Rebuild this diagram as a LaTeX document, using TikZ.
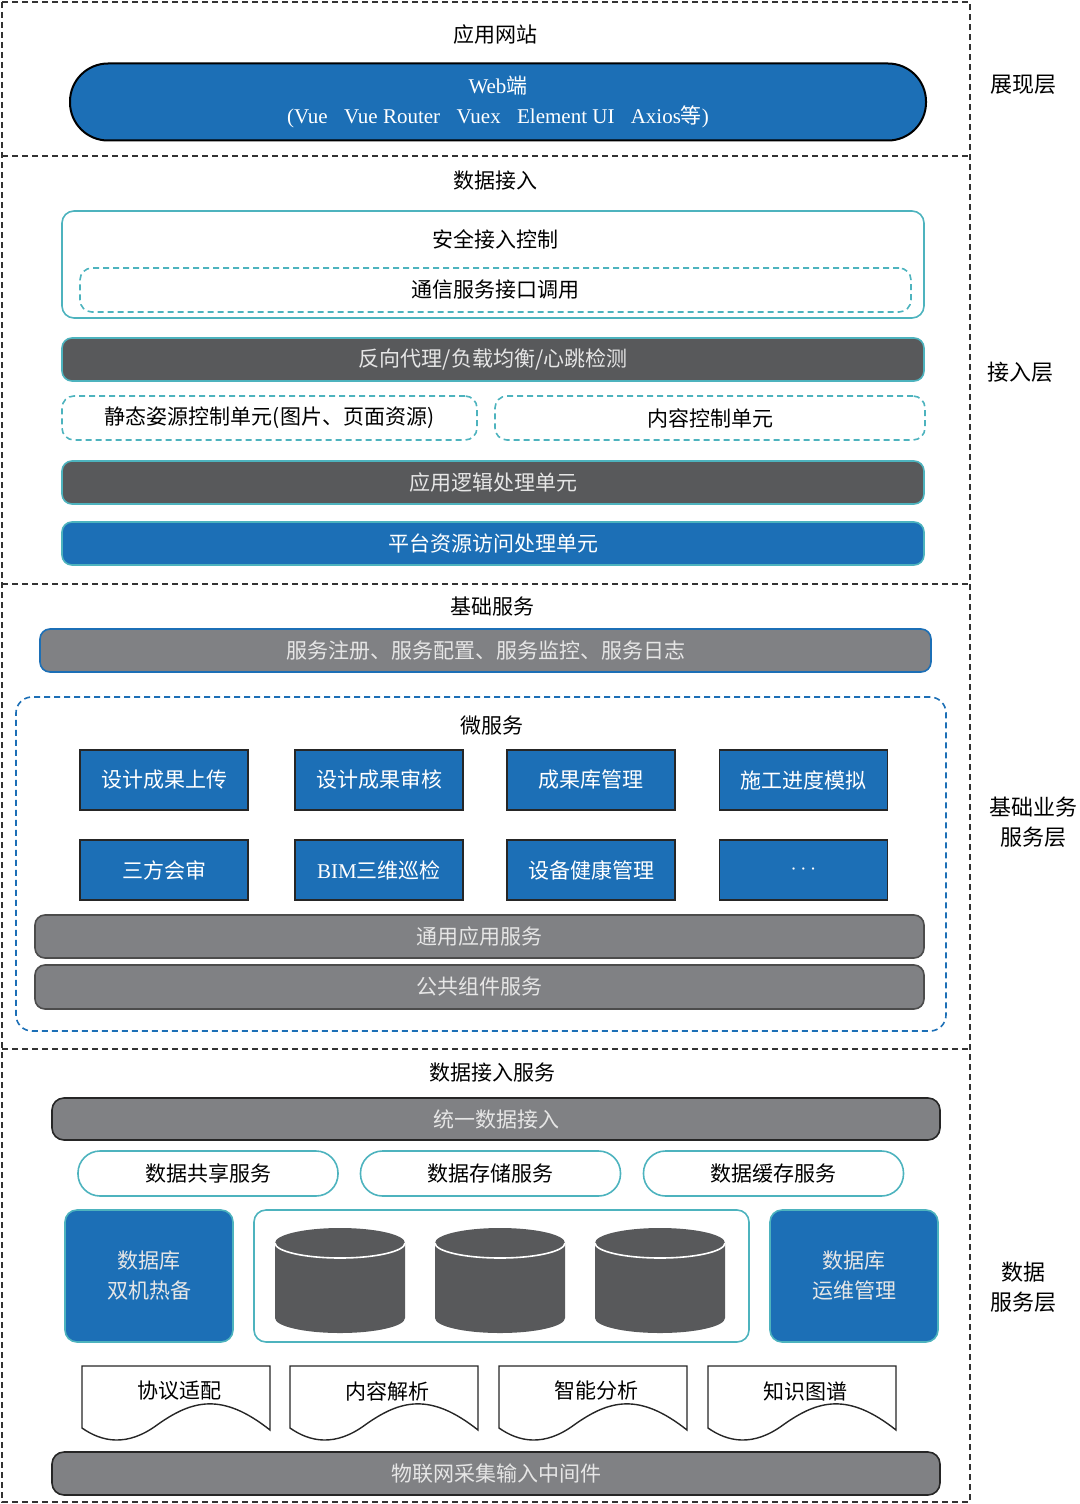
\documentclass[tikz,border=0pt]{standalone}
\usepackage{fontspec}
\setmainfont{Noto Sans CJK SC}
\newfontfamily\lat{Liberation Serif}
\definecolor{bl}{HTML}{1C6FB6}
\definecolor{dg}{HTML}{58595B}
\definecolor{mg}{HTML}{808184}
\definecolor{tl}{HTML}{4DB3BE}
\definecolor{lt}{HTML}{E6E6E6}
\begin{document}
\begin{tikzpicture}[x=0.5pt,y=-0.5pt,font=\fontsize{10.5pt}{13pt}\selectfont,
 wh/.style 2 args={minimum width=#1*0.5pt,minimum height=#2*0.5pt,inner sep=0pt},
 frame/.style={black!80,line width=0.8pt,dash pattern=on 3pt off 2pt},
 dkbar/.style={fill=dg,draw=tl,line width=0.8pt,rounded corners=5pt,text=lt},
 gybar/.style={fill=mg,draw=bl,line width=0.8pt,rounded corners=5pt,text=lt},
 gybark/.style={fill=mg,draw=black!85,line width=0.8pt,rounded corners=6pt,text=lt},
 bluebar/.style={fill=bl,draw=tl,line width=0.8pt,rounded corners=5pt,text=white},
 tdash/.style={draw=tl,line width=0.8pt,dash pattern=on 3pt off 2pt,rounded corners=6pt},
 sq/.style={fill=bl,draw=black!85,line width=0.8pt,text=white,wh={168}{60}},
 pillt/.style={draw=tl,line width=0.8pt,rounded corners=11pt,wh={260}{45}},
 doc/.style={draw=black!85,line width=0.7pt,fill=white},
 lbl/.style={align=center,font=\fontsize{11pt}{15pt}\selectfont}]
\useasboundingbox (0,0) rectangle (1080,1504);
% frame
\draw[frame] (2,2) rectangle (970,1502);
\draw[frame] (2,156) -- (970,156);
\draw[frame] (2,584) -- (970,584);
\draw[frame] (2,1049) -- (970,1049);
\node[lbl] (L1) at (1023,85) {展现层};
\node[lbl] (L2) at (1020,372) {接入层};
\node[lbl] (L3) at (1033,822) {基础业务\\服务层};
\node[lbl] (L4) at (1023,1287) {数据\\服务层};
% layer 1
\node (t1) at (495,35) {应用网站};
\node[fill=bl,draw=black,line width=1pt,rounded corners=19pt,wh={856}{77},text=white,align=center,font=\fontsize{10.5pt}{15pt}\selectfont] (web) at (498,102) {{\lat Web}端\\{\lat (Vue、Vue Router、Vuex、Element UI、Axios}等{\lat )}};
% layer 2
\node (t2) at (495,181) {数据接入};
\node[draw=tl,line width=0.8pt,rounded corners=6pt,wh={862}{107}] (sec) at (493,264.5) {};
\node (sect) at (495,239) {安全接入控制};
\node[tdash,wh={831}{44}] (comm) at (495.5,290) {通信服务接口调用};
\node[dkbar,wh={862}{43}] (proxy) at (493,359.5) {反向代理/负载均衡/心跳检测};
\node[tdash,wh={415}{44}] (stat) at (269.5,418) {静态姿源控制单元(图片、页面资源)};
\node[tdash,wh={430}{44}] (cont) at (710,418) {内容控制单元};
\node[dkbar,wh={862}{43}] (logic) at (493,482.5) {应用逻辑处理单元};
\node[bluebar,wh={862}{43}] (plat) at (493,543.5) {平台资源访问处理单元};
% layer 3
\node (t3) at (492,607) {基础服务};
\node[gybar,wh={891}{43}] (base) at (485.5,650.5) {服务注册、服务配置、服务监控、服务日志};
\node[draw=bl,line width=0.8pt,dash pattern=on 3pt off 2pt,rounded corners=8pt,wh={930}{334}] (micro) at (481,864) {};
\node (mt) at (492,726) {微服务};
\node[sq] (s1) at (164,780) {设计成果上传};
\node[sq] (s2) at (379,780) {设计成果审核};
\node[sq] (s3) at (591,780) {成果库管理};
\node[sq] (s4) at (803.5,780) {施工进度模拟};
\node[sq] (s5) at (164,870) {三方会审};
\node[sq] (s6) at (379,870) {{\lat BIM}三维巡检};
\node[sq] (s7) at (591,870) {设备健康管理};
\node[sq] (s8) at (803.5,870) {$\cdots$};
\node[gybar,draw=black!70,wh={889}{43}] (gen) at (479.5,936.5) {通用应用服务};
\node[gybar,draw=black!70,wh={889}{44}] (pub) at (479.5,987) {公共组件服务};
% layer 4
\node (t4) at (492,1073) {数据接入服务};
\node[gybark,wh={888}{42}] (uni) at (496,1119) {统一数据接入};
\node[pillt] (p1) at (208,1173.5) {数据共享服务};
\node[pillt] (p2) at (490.5,1173.5) {数据存储服务};
\node[pillt] (p3) at (773.5,1173.5) {数据缓存服务};
\node[fill=bl,draw=tl,line width=0.8pt,rounded corners=6pt,wh={168}{132},text=lt,align=center,font=\fontsize{10.5pt}{15pt}\selectfont] (db1) at (149,1276) {数据库\\双机热备};
\node[fill=bl,draw=tl,line width=0.8pt,rounded corners=6pt,wh={168}{132},text=lt,align=center,font=\fontsize{10.5pt}{15pt}\selectfont] (db2) at (854,1276) {数据库\\运维管理};
\node[draw=tl,line width=0.8pt,rounded corners=6pt,wh={495}{132}] (store) at (501.5,1276) {};
\foreach \cx in {340,500,660}{
  \fill[dg] (\cx-65,1243) -- (\cx-65,1318) arc(180:360:32.5pt and 7.5pt) -- (\cx+65,1243) arc(0:180:32.5pt and 7.5pt) -- cycle;
  \draw[white,line width=0.8pt] (\cx-65,1243) arc(180:360:32.5pt and 7.5pt);
}
\foreach \x/\t/\n in {82/协议适配/d1,290/内容解析/d2,499/智能分析/d3,708/知识图谱/d4}{
  \draw[doc] (\x,1366) -- (\x+188,1366) -- (\x+188,1430) .. controls (\x+140,1392) and (\x+110,1400) .. (\x+75,1425) .. controls (\x+45,1447) and (\x+20,1442) .. (\x,1428) -- cycle;
  \node (\n) at (\x+97,1391) {\t};
}
\node[gybark,wh={888}{43}] (iot) at (496,1473.5) {物联网采集输入中间件};
\end{tikzpicture}
\end{document}
